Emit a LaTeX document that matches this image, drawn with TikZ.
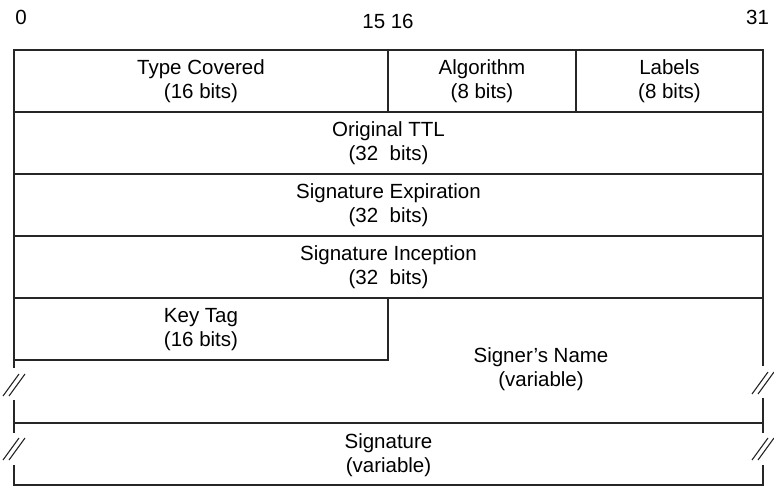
\documentclass[tikz,border=0pt]{standalone}
\usepackage{fontspec}
\setmainfont{Liberation Sans}
\usetikzlibrary{calc}

\newcommand{\brkmark}[2]{%
  \draw ($(#1,#2)+(-11,11)$)--($(#1,#2)+(5,-11)$);
  \draw ($(#1,#2)+(-5,11)$)--($(#1,#2)+(11,-11)$);}

\begin{document}
\begin{tikzpicture}[x=1pt, y=-1pt, line width=1.1pt, draw=black!85,
  field/.style={align=center, inner sep=0pt, font=\fontsize{20.5}{24}\selectfont},
  bitno/.style={inner sep=0pt, font=\fontsize{20.5}{24}\selectfont}]
\useasboundingbox (0,0) rectangle (774,487);
\node[bitno] (b0) at (21,17.5) {0};
\node[bitno] (b15) at (388,21) {15 16};
\node[bitno] (b31) at (757.5,17.5) {31};
% fixed part
\draw (14,50) rectangle (763,298);
\draw (14,112)--(763,112);
\draw (14,174)--(763,174);
\draw (14,236)--(763,236);
\draw (388,50)--(388,112);
\draw (576,50)--(576,112);
\node[field] (1) at (201,81)  {Type Covered\\(16 bits)};
\node[field] (2) at (482,81)  {Algorithm\\(8 bits)};
\node[field] (3) at (669.5,81)  {Labels\\(8 bits)};
\node[field] (4) at (388.5,143)  {Original TTL\\(32~ bits)};
\node[field] (5) at (388.5,205)  {Signature Expiration\\(32~ bits)};
\node[field] (6) at (388.5,267)  {Signature Inception\\(32~ bits)};
% variable part
\draw (14,298)--(14,368);
\draw (14,400)--(14,433);
\draw (14,465)--(14,485)--(763,485)--(763,465);
\draw (763,433)--(763,398);
\draw (763,366)--(763,298);
\draw (14,360)--(388,360)--(388,298);
\draw (14,423)--(763,423);
\brkmark{14}{385}
\brkmark{14}{449}
\brkmark{763}{383}
\brkmark{763}{449}
\node[field] (7) at (201,329.5)  {Key Tag\\(16 bits)};
\node[field] (8) at (541,369)  {Signer’s Name\\(variable)};
\node[field] (9) at (388.5,455)  {Signature\\(variable)};
\end{tikzpicture}
\end{document}
